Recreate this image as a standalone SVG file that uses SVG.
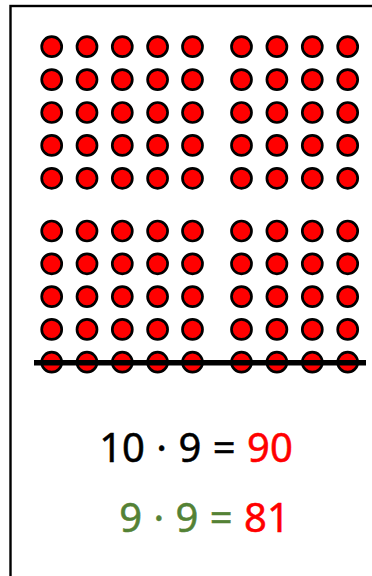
<svg xmlns="http://www.w3.org/2000/svg" width="372" height="576" viewBox="0 0 372 576">
<defs>
<style>
.d{fill:#ff0000;stroke:#000;stroke-width:2.7}
.t{font-family:"Noto Sans","DejaVu Sans",sans-serif;font-size:40px;stroke-width:0.5;word-spacing:1px}
</style>
<circle id="dot" class="d" r="10"/>
</defs>
<rect id="frame" x="10.5" y="6" width="380" height="600" fill="#fff" stroke="#000" stroke-width="2.4"/>
<g id="dots">
<g id="block-top-left">
<use href="#dot" x="51.7" y="46.7"/><use href="#dot" x="87" y="46.7"/><use href="#dot" x="122.3" y="46.7"/><use href="#dot" x="157.6" y="46.7"/><use href="#dot" x="192.5" y="46.7"/>
<use href="#dot" x="51.7" y="79.6"/><use href="#dot" x="87" y="79.6"/><use href="#dot" x="122.3" y="79.6"/><use href="#dot" x="157.6" y="79.6"/><use href="#dot" x="192.5" y="79.6"/>
<use href="#dot" x="51.7" y="112.5"/><use href="#dot" x="87" y="112.5"/><use href="#dot" x="122.3" y="112.5"/><use href="#dot" x="157.6" y="112.5"/><use href="#dot" x="192.5" y="112.5"/>
<use href="#dot" x="51.7" y="145.4"/><use href="#dot" x="87" y="145.4"/><use href="#dot" x="122.3" y="145.4"/><use href="#dot" x="157.6" y="145.4"/><use href="#dot" x="192.5" y="145.4"/>
<use href="#dot" x="51.7" y="178.3"/><use href="#dot" x="87" y="178.3"/><use href="#dot" x="122.3" y="178.3"/><use href="#dot" x="157.6" y="178.3"/><use href="#dot" x="192.5" y="178.3"/>
</g>
<g id="block-top-right">
<use href="#dot" x="241.5" y="46.7"/><use href="#dot" x="276.9" y="46.7"/><use href="#dot" x="312.3" y="46.7"/><use href="#dot" x="347.7" y="46.7"/>
<use href="#dot" x="241.5" y="79.6"/><use href="#dot" x="276.9" y="79.6"/><use href="#dot" x="312.3" y="79.6"/><use href="#dot" x="347.7" y="79.6"/>
<use href="#dot" x="241.5" y="112.5"/><use href="#dot" x="276.9" y="112.5"/><use href="#dot" x="312.3" y="112.5"/><use href="#dot" x="347.7" y="112.5"/>
<use href="#dot" x="241.5" y="145.4"/><use href="#dot" x="276.9" y="145.4"/><use href="#dot" x="312.3" y="145.4"/><use href="#dot" x="347.7" y="145.4"/>
<use href="#dot" x="241.5" y="178.3"/><use href="#dot" x="276.9" y="178.3"/><use href="#dot" x="312.3" y="178.3"/><use href="#dot" x="347.7" y="178.3"/>
</g>
<g id="block-bottom-left">
<use href="#dot" x="51.7" y="231"/><use href="#dot" x="87" y="231"/><use href="#dot" x="122.3" y="231"/><use href="#dot" x="157.6" y="231"/><use href="#dot" x="192.5" y="231"/>
<use href="#dot" x="51.7" y="263.8"/><use href="#dot" x="87" y="263.8"/><use href="#dot" x="122.3" y="263.8"/><use href="#dot" x="157.6" y="263.8"/><use href="#dot" x="192.5" y="263.8"/>
<use href="#dot" x="51.7" y="296.6"/><use href="#dot" x="87" y="296.6"/><use href="#dot" x="122.3" y="296.6"/><use href="#dot" x="157.6" y="296.6"/><use href="#dot" x="192.5" y="296.6"/>
<use href="#dot" x="51.7" y="329.4"/><use href="#dot" x="87" y="329.4"/><use href="#dot" x="122.3" y="329.4"/><use href="#dot" x="157.6" y="329.4"/><use href="#dot" x="192.5" y="329.4"/>
<use href="#dot" x="51.7" y="362.2"/><use href="#dot" x="87" y="362.2"/><use href="#dot" x="122.3" y="362.2"/><use href="#dot" x="157.6" y="362.2"/><use href="#dot" x="192.5" y="362.2"/>
</g>
<g id="block-bottom-right">
<use href="#dot" x="241.5" y="231"/><use href="#dot" x="276.9" y="231"/><use href="#dot" x="312.3" y="231"/><use href="#dot" x="347.7" y="231"/>
<use href="#dot" x="241.5" y="263.8"/><use href="#dot" x="276.9" y="263.8"/><use href="#dot" x="312.3" y="263.8"/><use href="#dot" x="347.7" y="263.8"/>
<use href="#dot" x="241.5" y="296.6"/><use href="#dot" x="276.9" y="296.6"/><use href="#dot" x="312.3" y="296.6"/><use href="#dot" x="347.7" y="296.6"/>
<use href="#dot" x="241.5" y="329.4"/><use href="#dot" x="276.9" y="329.4"/><use href="#dot" x="312.3" y="329.4"/><use href="#dot" x="347.7" y="329.4"/>
<use href="#dot" x="241.5" y="362.2"/><use href="#dot" x="276.9" y="362.2"/><use href="#dot" x="312.3" y="362.2"/><use href="#dot" x="347.7" y="362.2"/>
</g>
</g>
<line id="strike" x1="34" y1="362.8" x2="366" y2="362.8" stroke="#000" stroke-width="5.5"/>
<text id="eq1" class="t" x="196" y="461.5" text-anchor="middle" fill="#000" stroke="#000">10 · 9 = <tspan fill="#ff0000" stroke="#ff0000">90</tspan></text>
<text id="eq2" class="t" x="204.5" y="531.5" text-anchor="middle" fill="#548235" stroke="#548235">9 · 9 = <tspan fill="#ff0000" stroke="#ff0000">81</tspan></text>
</svg>
